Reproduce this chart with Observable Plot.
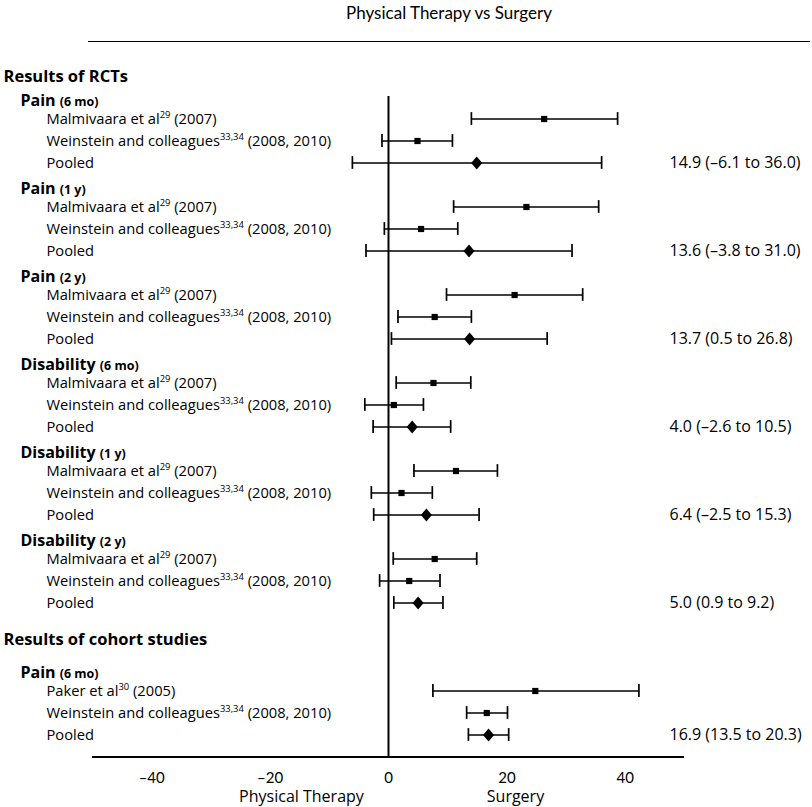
<!DOCTYPE html>
<html><head><meta charset="utf-8">
<script src="https://cdn.jsdelivr.net/npm/d3@7"></script>
<script src="https://cdn.jsdelivr.net/npm/@observablehq/plot@0.6"></script>
<style>
html,body{margin:0;padding:0;background:#fff;overflow:hidden;}
#wrap{position:relative;width:812px;height:807px;}
#chart{position:absolute;left:0;top:0;}
#title{position:absolute;left:88px;width:722px;top:3px;text-align:center;font:17px Lato, sans-serif;color:#000;line-height:20px;}
#rule{position:absolute;left:88px;width:722px;top:41px;border-top:1.6px solid #000;}
</style></head><body>
<div id="wrap"><div id="chart"></div><div id="title">Physical Therapy vs Surgery</div><div id="rule"></div></div>
<script>
// ---- data ----
const sections = ["Results of RCTs", "Results of cohort studies"];
const groupSection = [0, 0, 0, 0, 0, 0, 1];
const outcomes = ["Pain", "Pain", "Pain", "Disability", "Disability", "Disability", "Pain"];
const followUps = ["6 mo", "1 y", "2 y", "6 mo", "1 y", "2 y", "6 mo"];
const firstStudy = [
  "Malmivaara et al^{29} (2007)", "Malmivaara et al^{29} (2007)", "Malmivaara et al^{29} (2007)",
  "Malmivaara et al^{29} (2007)", "Malmivaara et al^{29} (2007)", "Malmivaara et al^{29} (2007)",
  "Paker et al^{30} (2005)"];
const firstEst = [26.3, 23.3, 21.3, 7.6, 11.4, 7.8, 24.8];
const firstLo  = [14.0, 11.0, 9.8, 1.3, 4.3, 0.8, 7.5];
const firstHi  = [38.7, 35.5, 32.8, 13.9, 18.4, 14.9, 42.3];
const secondStudy = "Weinstein and colleagues^{33,34} (2008, 2010)";
const secondEst = [4.9, 5.5, 7.8, 0.9, 2.2, 3.5, 16.6];
const secondLo  = [-1.1, -0.7, 1.6, -4.0, -2.9, -1.5, 13.2];
const secondHi  = [10.8, 11.7, 14.0, 5.9, 7.4, 8.7, 20.1];
const pooledLabel = "Pooled";
const pooledEst = [14.9, 13.6, 13.7, 4.0, 6.4, 5.0, 16.9];
const pooledLo  = [-6.1, -3.8, 0.5, -2.6, -2.5, 0.9, 13.5];
const pooledHi  = [36.0, 31.0, 26.8, 10.5, 15.3, 9.2, 20.3];
const xTicks = [-40, -20, 0, 20, 40];
const sideLabels = ["Physical Therapy", "Surgery"];

// ---- layout (row units) ----
const rows = [], headers = [], sectionRows = [];
let k = 0, prev = null;
outcomes.forEach((o, i) => {
  if (groupSection[i] !== prev) {
    if (prev !== null) k += 2;
    sectionRows.push({label: sections[groupSection[i]], k: k - (prev === null ? 1.93 : 2.35)});
    prev = groupSection[i];
  }
  headers.push({label: `${o} ~{(${followUps[i]})}`, k: k - 0.82});
  rows.push({label: firstStudy[i], est: firstEst[i], lo: firstLo[i], hi: firstHi[i], k: k, pooled: false});
  rows.push({label: secondStudy, est: secondEst[i], lo: secondLo[i], hi: secondHi[i], k: k + 1, pooled: false});
  rows.push({label: pooledLabel, est: pooledEst[i], lo: pooledLo[i], hi: pooledHi[i], k: k + 2, pooled: true});
  k += 4;
});
const axisK = k - 1;
const fmtNum = v => (v < 0 ? "\u2013" + Math.abs(v).toFixed(1) : v.toFixed(1));
const fmtTick = v => (v < 0 ? "\u2013" + Math.abs(v) : String(v));

const diamond = {
  draw(ctx, size) {
    const h = Math.sqrt(size) * 0.92, w = h * 0.85;
    ctx.moveTo(0, -h); ctx.lineTo(w, 0); ctx.lineTo(0, h); ctx.lineTo(-w, 0); ctx.closePath();
  }
};

const studies = rows.filter(d => !d.pooled);
const pooled = rows.filter(d => d.pooled);
const capH = 0.29;

const plot = Plot.plot({
  width: 812, height: 807,
  marginLeft: 92, marginRight: 128, marginTop: 52.5, marginBottom: 50.5,
  x: {domain: [-50, 50], axis: null},
  y: {domain: [-3, axisK], reverse: true, axis: null},
  style: {fontFamily: "'Open Sans', sans-serif", color: "#000", background: "#fff", overflow: "visible"},
  marks: [
    Plot.ruleX([0], {y1: -1.02, y2: axisK, stroke: "#000", strokeWidth: 2}),
    Plot.ruleY([axisK], {stroke: "#000", strokeWidth: 2}),
    Plot.axisX({ticks: xTicks, tickSize: 0, tickPadding: 15, tickFormat: fmtTick, fontSize: 15, anchor: "bottom", fill: "#000"}),
    Plot.text(sideLabels, {x: [-14.7, 21.45], y: [axisK + 1.83, axisK + 1.83], text: d => d, fontSize: 16, fill: "#000"}),
    Plot.ruleY(rows, {y: "k", x1: "lo", x2: "hi", stroke: "#000", strokeWidth: 1.7}),
    Plot.ruleX(rows, {x: "lo", y1: d => d.k - capH, y2: d => d.k + capH, stroke: "#000", strokeWidth: 1.7}),
    Plot.ruleX(rows, {x: "hi", y1: d => d.k - capH, y2: d => d.k + capH, stroke: "#000", strokeWidth: 1.7}),
    Plot.dot(studies, {x: "est", y: "k", symbol: "square", r: 3.5, fill: "#000", stroke: null}),
    Plot.dot(pooled, {x: "est", y: "k", symbol: diamond, r: 4, fill: "#000", stroke: null}),
    Plot.text(sectionRows, {y: "k", text: "label", frameAnchor: "left", dx: -89, textAnchor: "start", fontWeight: "bold", fontSize: 16.5, fill: "#000"}),
    Plot.text(headers, {y: "k", text: "label", frameAnchor: "left", dx: -72, textAnchor: "start", fontWeight: "bold", fontSize: 16, fill: "#000"}),
    Plot.text(rows, {y: "k", text: "label", frameAnchor: "left", dx: -46, textAnchor: "start", fontSize: 14.7, fill: "#000"}),
    Plot.text(pooled, {y: "k", text: d => `${d.est.toFixed(1)} (${fmtNum(d.lo)} to ${fmtNum(d.hi)})`, frameAnchor: "right", dx: -15, textAnchor: "start", fontSize: 16, fill: "#000"})
  ]
});
document.getElementById("chart").appendChild(plot);

// axis tick label font
d3.select(plot).selectAll("g[aria-label='x-axis tick label'] text").style("font-family", "Lato, sans-serif");

// rich text: ^{sup}, ~{smaller}
d3.select(plot).selectAll("text").each(function () {
  const t = this.textContent;
  if (!/[\^~]\{/.test(t)) return;
  const fs = parseFloat(getComputedStyle(this).fontSize) || 14;
  const sel = d3.select(this);
  sel.text(null);
  const parts = t.split(/([\^~]\{[^}]*\})/).filter(s => s);
  let shifted = false;
  for (const p of parts) {
    const ts = sel.append("tspan");
    if (p.startsWith("^{")) {
      ts.text(p.slice(2, -1)).attr("font-size", fs * 0.64).attr("dy", -fs * 0.38);
      shifted = true;
    } else {
      if (p.startsWith("~{")) ts.text(p.slice(2, -1)).attr("font-size", fs * 0.78);
      else ts.text(p);
      if (shifted) { ts.attr("dy", fs * 0.38); shifted = false; }
    }
  }
});
</script>
</body></html>
